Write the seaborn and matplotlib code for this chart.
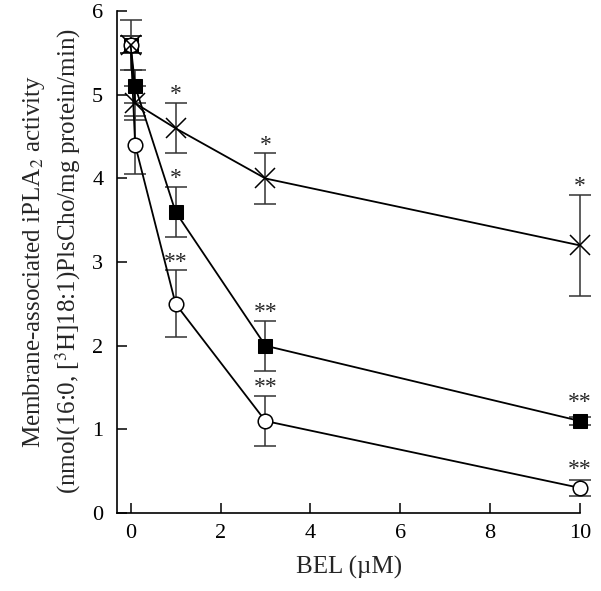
import matplotlib
matplotlib.use("Agg")
import matplotlib.pyplot as plt
import seaborn as sns
import pandas as pd

# BEL concentration (uM)
bel = [0, 0.1, 1, 3, 10]

# membrane-associated iPLA2 activity, mean and error
circle_y = [5.6, 4.4, 2.5, 1.1, 0.3]
circle_err = [0.1, 0.35, 0.4, 0.3, 0.1]
circle_sig = ["", "", "**", "**", "**"]

square_y = [5.6, 5.1, 3.6, 2.0, 1.1]
square_err = [0.3, 0.2, 0.3, 0.3, 0.05]
square_sig = ["", "", "*", "**", "**"]

cross_y = [5.6, 4.9, 4.6, 4.0, 3.2]
cross_err = [0.1, 0.2, 0.3, 0.3, 0.6]
cross_sig = ["", "", "*", "*", "*"]

sns.set_style("ticks")
plt.rcParams["font.family"] = ["Liberation Serif", "DejaVu Serif"]
plt.rcParams["mathtext.fontset"] = "stix"

fig = plt.figure(figsize=(6.01, 5.91), dpi=100)
ax = fig.add_axes([0.195, 0.132, 0.77, 0.849])

series = [
    ("square", square_y, square_err, square_sig, dict(marker="s", markersize=10.5, markerfacecolor="black", markeredgecolor="black")),
    ("circle", circle_y, circle_err, circle_sig, dict(marker="o", markersize=10.5, markerfacecolor="white", markeredgecolor="black", markeredgewidth=1.1)),
    ("cross", cross_y, cross_err, cross_sig, dict(marker="x", markersize=14, markeredgecolor="black", markeredgewidth=1.1)),
]

for name, y, err, sig, mk in series:
    df = pd.DataFrame({"BEL": bel, "activity": y})
    eb = ax.errorbar(df["BEL"], df["activity"], yerr=err, fmt="none", ecolor="#333333",
                     elinewidth=1.1, capsize=8, capthick=1.1, zorder=2)
    for art in eb.get_children():
        art.set_clip_on(False)
    sns.lineplot(data=df, x="BEL", y="activity", ax=ax, color="black", linewidth=1.3,
                 zorder=3, clip_on=False, **mk)
    for xi, yi, ei, s in zip(bel, y, err, sig):
        if s:
            base = max(yi + ei, yi + 0.12)
            ax.annotate(s, (xi, base), xytext=(0, 2), textcoords="offset points",
                        ha="center", va="baseline", fontsize=17)

ax.set_xlim(-0.3, 10)
ax.set_ylim(0, 6)
ax.set_xticks([0, 2, 4, 6, 8, 10])
ax.set_yticks([0, 1, 2, 3, 4, 5, 6])
ax.tick_params(direction="in", length=7, width=1.1, labelsize=16, colors="black")
ax.tick_params(axis="x", pad=8)
ax.tick_params(axis="y", pad=10)
for sp in ["top", "right"]:
    ax.spines[sp].set_visible(False)
for sp in ["left", "bottom"]:
    ax.spines[sp].set_linewidth(1.2)
    ax.spines[sp].set_color("black")

ax.set_xlabel("BEL (\u00b5M)", fontsize=18, labelpad=9)
ax.set_ylabel("")
fig.text(0.057, 0.558, "Membrane-associated iPLA$_2$ activity", rotation=90,
         ha="center", va="center", fontsize=18)
fig.text(0.113, 0.558, "(nmol(16:0, [$^3$H]18:1)PlsCho/mg protein/min)", rotation=90,
         ha="center", va="center", fontsize=18)

fig.savefig("out.png", dpi=100)
